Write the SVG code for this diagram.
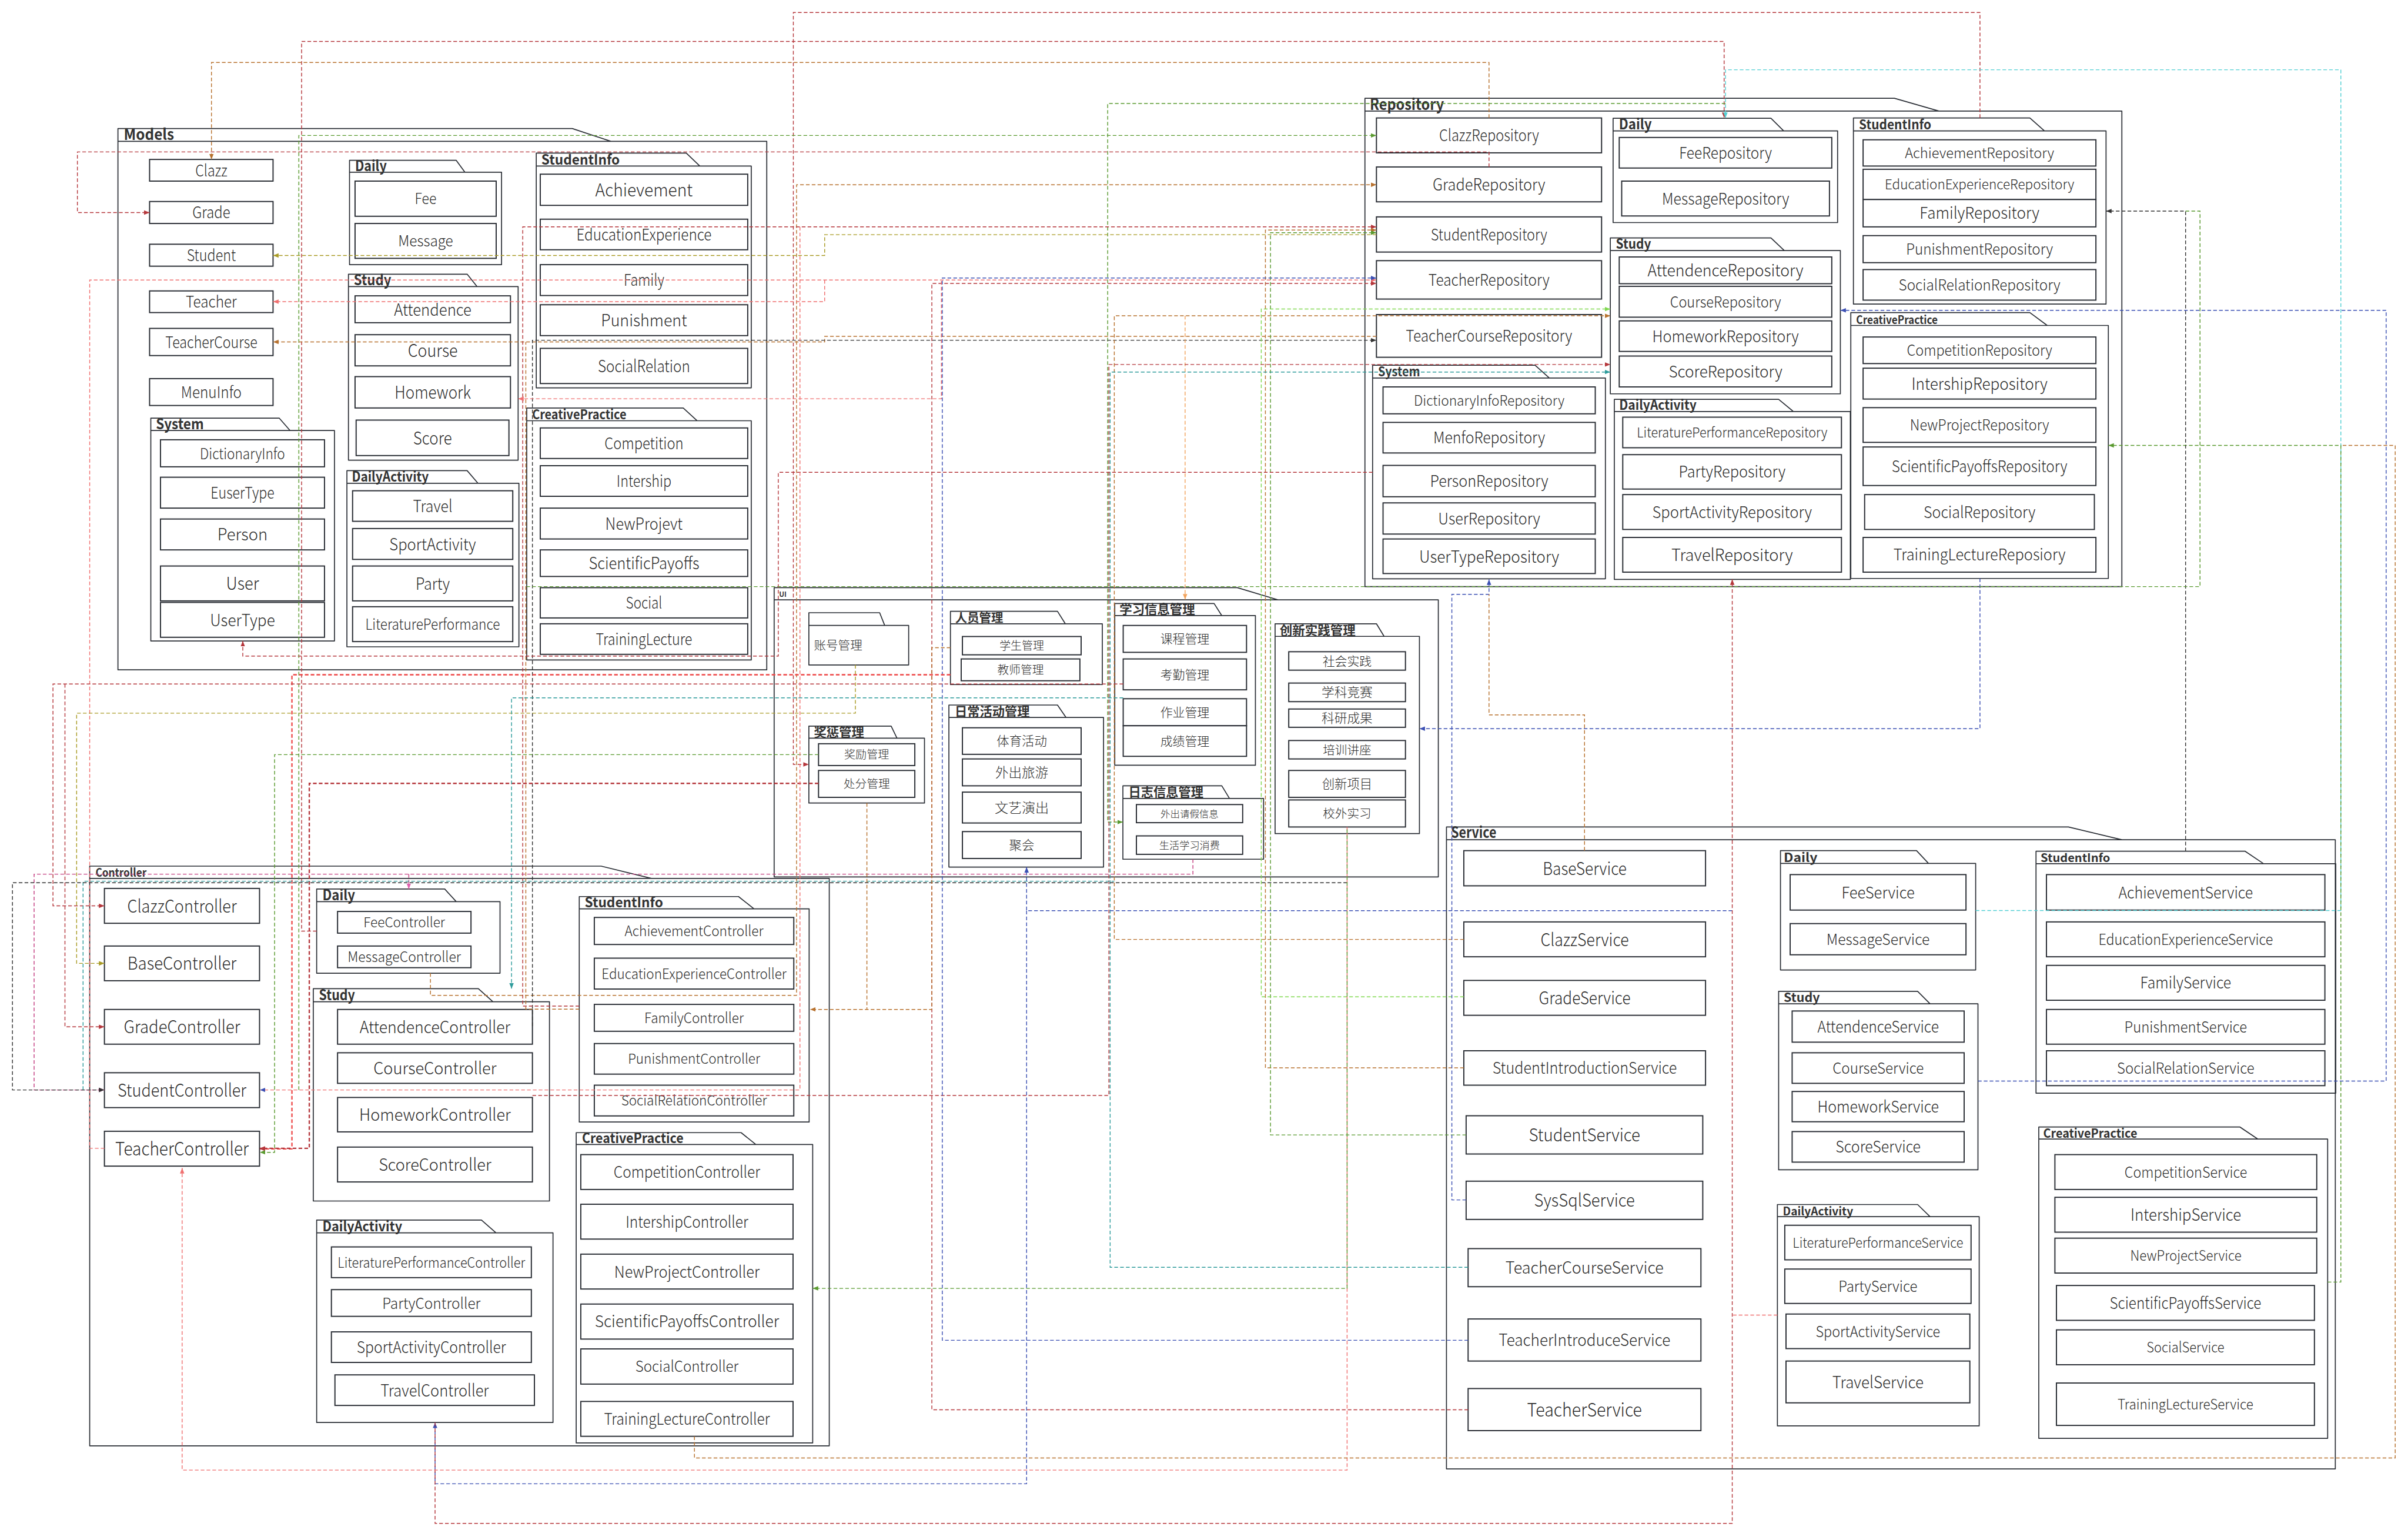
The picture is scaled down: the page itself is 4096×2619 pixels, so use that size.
<svg xmlns="http://www.w3.org/2000/svg" width="4096" height="2619" viewBox="0 0 4096 2619">
<style>
.bx{fill:#fff;stroke:#2a2e35;stroke-width:.75}
.pk{fill:none;stroke:#2a2e35;stroke-width:.65;stroke-linejoin:round}
.t{font-family:"Noto Sans CJK SC","Noto Sans",sans-serif;font-weight:300;fill:#2e2e2e;text-anchor:middle}
.l{font-family:"Noto Sans CJK SC","Noto Sans",sans-serif;font-weight:700;fill:#333;text-anchor:start}
.u{font-family:"Noto Sans CJK SC","Noto Sans",sans-serif;font-weight:300;fill:#2e2e2e;text-anchor:start}
.c{fill:none;stroke-width:.55;stroke-dasharray:2.4 1.4}
.th{stroke-width:.9}
.dr{stroke:#b5373c}.br{stroke:#b8722f}.cy{stroke:#55d0d4}.gr{stroke:#5a9a30}.lg{stroke:#80d850}.ol{stroke:#a99b25}
.sa{stroke:#f07070}.rd{stroke:#ee4a4a}.te{stroke:#2e9c9c}.bl{stroke:#3b4fb3}.bk{stroke:#333}.mg{stroke:#c43d80}.or{stroke:#f2a35c}
</style>
<defs>
<marker id="a-dr" viewBox="0 0 10 10" refX="10" refY="5" markerWidth="3.6" markerHeight="3.6" markerUnits="userSpaceOnUse" orient="auto"><path d="M0,1L10,5L0,9z" fill="#b5373c"/></marker>
<marker id="a-br" viewBox="0 0 10 10" refX="10" refY="5" markerWidth="3.6" markerHeight="3.6" markerUnits="userSpaceOnUse" orient="auto"><path d="M0,1L10,5L0,9z" fill="#b8722f"/></marker>
<marker id="a-cy" viewBox="0 0 10 10" refX="10" refY="5" markerWidth="3.6" markerHeight="3.6" markerUnits="userSpaceOnUse" orient="auto"><path d="M0,1L10,5L0,9z" fill="#55d0d4"/></marker>
<marker id="a-gr" viewBox="0 0 10 10" refX="10" refY="5" markerWidth="3.6" markerHeight="3.6" markerUnits="userSpaceOnUse" orient="auto"><path d="M0,1L10,5L0,9z" fill="#5a9a30"/></marker>
<marker id="a-lg" viewBox="0 0 10 10" refX="10" refY="5" markerWidth="3.6" markerHeight="3.6" markerUnits="userSpaceOnUse" orient="auto"><path d="M0,1L10,5L0,9z" fill="#80d850"/></marker>
<marker id="a-ol" viewBox="0 0 10 10" refX="10" refY="5" markerWidth="3.6" markerHeight="3.6" markerUnits="userSpaceOnUse" orient="auto"><path d="M0,1L10,5L0,9z" fill="#a99b25"/></marker>
<marker id="a-sa" viewBox="0 0 10 10" refX="10" refY="5" markerWidth="3.6" markerHeight="3.6" markerUnits="userSpaceOnUse" orient="auto"><path d="M0,1L10,5L0,9z" fill="#f07070"/></marker>
<marker id="a-rd" viewBox="0 0 10 10" refX="10" refY="5" markerWidth="3.6" markerHeight="3.6" markerUnits="userSpaceOnUse" orient="auto"><path d="M0,1L10,5L0,9z" fill="#b5373c"/></marker>
<marker id="a-te" viewBox="0 0 10 10" refX="10" refY="5" markerWidth="3.6" markerHeight="3.6" markerUnits="userSpaceOnUse" orient="auto"><path d="M0,1L10,5L0,9z" fill="#2e9c9c"/></marker>
<marker id="a-bl" viewBox="0 0 10 10" refX="10" refY="5" markerWidth="3.6" markerHeight="3.6" markerUnits="userSpaceOnUse" orient="auto"><path d="M0,1L10,5L0,9z" fill="#3b4fb3"/></marker>
<marker id="a-bk" viewBox="0 0 10 10" refX="10" refY="5" markerWidth="3.6" markerHeight="3.6" markerUnits="userSpaceOnUse" orient="auto"><path d="M0,1L10,5L0,9z" fill="#333"/></marker>
<marker id="a-mg" viewBox="0 0 10 10" refX="10" refY="5" markerWidth="3.6" markerHeight="3.6" markerUnits="userSpaceOnUse" orient="auto"><path d="M0,1L10,5L0,9z" fill="#e060b0"/></marker>
<marker id="a-or" viewBox="0 0 10 10" refX="10" refY="5" markerWidth="3.6" markerHeight="3.6" markerUnits="userSpaceOnUse" orient="auto"><path d="M0,1L10,5L0,9z" fill="#f2a35c"/></marker>
</defs>
<rect width="4096" height="2619" fill="#fff"/>
<g transform="scale(2.6122)">

<!-- ===== Models ===== -->
<g id="pkg-models">
<path class="pk" d="M76.8,92V83.7H372.7L397.8,92M76.8,92H499.3V436.1H76.8Z"/>
<text class="l" x="80.6" y="91" font-size="10" textLength="32.7" lengthAdjust="spacingAndGlyphs">Models</text>
<g id="m-clazz"><rect class="bx" x="97.4" y="103.8" width="80.4" height="14.1"/><text class="t" x="137.6" y="114.7" font-size="10.5" textLength="20.9" lengthAdjust="spacingAndGlyphs">Clazz</text></g>
<g id="m-grade"><rect class="bx" x="97.4" y="131.2" width="80.4" height="14.3"/><text class="t" x="137.6" y="142.2" font-size="10.5" textLength="24.7" lengthAdjust="spacingAndGlyphs">Grade</text></g>
<g id="m-student"><rect class="bx" x="97.4" y="159" width="80.4" height="14.3"/><text class="t" x="137.6" y="170" font-size="10.5" textLength="32" lengthAdjust="spacingAndGlyphs">Student</text></g>
<g id="m-teacher"><rect class="bx" x="97.4" y="189.4" width="80.4" height="14.1"/><text class="t" x="137.6" y="200.3" font-size="10.5" textLength="33.2" lengthAdjust="spacingAndGlyphs">Teacher</text></g>
<g id="m-teachercourse"><rect class="bx" x="97.4" y="213.8" width="80.4" height="17.7"/><text class="t" x="137.6" y="226.5" font-size="10.5" textLength="59.9" lengthAdjust="spacingAndGlyphs">TeacherCourse</text></g>
<g id="m-menuinfo"><rect class="bx" x="97.4" y="246.5" width="80.4" height="17.5"/><text class="t" x="137.6" y="259.1" font-size="10.5" textLength="39.5" lengthAdjust="spacingAndGlyphs">MenuInfo</text></g>
<g id="m-system">
<path class="pk" d="M98.2,280.3V272.2H181.8L188.9,280.3M98.2,280.3H217.8V417.3H98.2Z"/>
<text class="l" x="101.5" y="279.3" font-size="9.5" textLength="31.2" lengthAdjust="spacingAndGlyphs">System</text>
<g id="m-dictionaryinfo"><rect class="bx" x="104.5" y="286.3" width="106.8" height="17.6"/><text class="t" x="157.9" y="298.8" font-size="10" textLength="55.4" lengthAdjust="spacingAndGlyphs">DictionaryInfo</text></g>
<g id="m-eusertype"><rect class="bx" x="104.5" y="310.7" width="106.8" height="20.1"/><text class="t" x="157.9" y="324.6" font-size="10.5" textLength="41.5" lengthAdjust="spacingAndGlyphs">EuserType</text></g>
<g id="m-person"><rect class="bx" x="104.5" y="337.9" width="106.8" height="20.1"/><text class="t" x="157.9" y="352" font-size="11" textLength="32.7" lengthAdjust="spacingAndGlyphs">Person</text></g>
<g id="m-user"><rect class="bx" x="104.5" y="368.5" width="106.8" height="22.7"/><text class="t" x="157.9" y="384.1" font-size="11.5" textLength="21.4" lengthAdjust="spacingAndGlyphs">User</text></g>
<g id="m-usertype"><rect class="bx" x="104.5" y="392.2" width="106.8" height="22.7"/><text class="t" x="157.9" y="407.6" font-size="11" textLength="42.3" lengthAdjust="spacingAndGlyphs">UserType</text></g>
</g>
<g id="m-daily">
<path class="pk" d="M227.6,112.1V104.4H297.1L302.7,112.1M227.6,112.1H326.6V172.3H227.6Z"/>
<text class="l" x="231.2" y="111.3" font-size="9.5" textLength="20.6" lengthAdjust="spacingAndGlyphs">Daily</text>
<g id="m-fee"><rect class="bx" x="231.2" y="117.9" width="91.9" height="22.9"/><text class="t" x="277.15" y="133" font-size="10" textLength="14.1" lengthAdjust="spacingAndGlyphs">Fee</text></g>
<g id="m-message"><rect class="bx" x="231.2" y="145.5" width="91.9" height="22.7"/><text class="t" x="277.15" y="160.5" font-size="10" textLength="35.8" lengthAdjust="spacingAndGlyphs">Message</text></g>
</g>
<g id="m-study">
<path class="pk" d="M226.9,186.6V178.5H304.2L310.7,186.6M226.9,186.6H337.4V299.6H226.9Z"/>
<text class="l" x="230.4" y="185.6" font-size="9.5" textLength="24.4" lengthAdjust="spacingAndGlyphs">Study</text>
<g id="m-attendence"><rect class="bx" x="231.2" y="192.6" width="101.2" height="17.5"/><text class="t" x="281.8" y="205.4" font-size="11" textLength="50.4" lengthAdjust="spacingAndGlyphs">Attendence</text></g>
<g id="m-course"><rect class="bx" x="231.2" y="217.9" width="101.2" height="20.3"/><text class="t" x="281.8" y="232.3" font-size="11.5" textLength="32.5" lengthAdjust="spacingAndGlyphs">Course</text></g>
<g id="m-homework"><rect class="bx" x="231.2" y="245.2" width="101.2" height="20.4"/><text class="t" x="281.8" y="259.6" font-size="11.5" textLength="49.6" lengthAdjust="spacingAndGlyphs">Homework</text></g>
<g id="m-score"><rect class="bx" x="231.9" y="273.5" width="99.5" height="23.1"/><text class="t" x="281.65" y="289.3" font-size="11.5" textLength="25.2" lengthAdjust="spacingAndGlyphs">Score</text></g>
</g>
<g id="m-dailyactivity">
<path class="pk" d="M225.9,314.6V306.4H304.2L311.2,314.6M225.9,314.6H337.9V421.1H225.9Z"/>
<text class="l" x="229.1" y="313.6" font-size="9" textLength="50.1" lengthAdjust="spacingAndGlyphs">DailyActivity</text>
<g id="m-travel"><rect class="bx" x="229.6" y="319.5" width="104.3" height="19.9"/><text class="t" x="281.75" y="333.5" font-size="11" textLength="25.7" lengthAdjust="spacingAndGlyphs">Travel</text></g>
<g id="m-sportactivity"><rect class="bx" x="229.6" y="344.1" width="104.3" height="20.1"/><text class="t" x="281.75" y="358.2" font-size="11" textLength="56.4" lengthAdjust="spacingAndGlyphs">SportActivity</text></g>
<g id="m-party"><rect class="bx" x="229.6" y="368.5" width="104.3" height="22.7"/><text class="t" x="281.75" y="383.9" font-size="11" textLength="22.2" lengthAdjust="spacingAndGlyphs">Party</text></g>
<g id="m-literatureperformance"><rect class="bx" x="229.6" y="395" width="104.3" height="22.7"/><text class="t" x="281.75" y="410" font-size="10" textLength="87.6" lengthAdjust="spacingAndGlyphs">LiteraturePerformance</text></g>
</g>
<g id="m-studentinfo">
<path class="pk" d="M349.2,108.1V99.7H446.9L455.7,108.1M349.2,108.1H489.2V252.5H349.2Z"/>
<text class="l" x="352.5" y="107.1" font-size="9" textLength="51.1" lengthAdjust="spacingAndGlyphs">StudentInfo</text>
<g id="m-achievement"><rect class="bx" x="351.8" y="113.4" width="135.1" height="20.3"/><text class="t" x="419.35" y="127.8" font-size="11.5" textLength="63.4" lengthAdjust="spacingAndGlyphs">Achievement</text></g>
<g id="m-educationexperience"><rect class="bx" x="351.8" y="142.7" width="135.1" height="19.9"/><text class="t" x="419.35" y="156.5" font-size="10.5" textLength="88" lengthAdjust="spacingAndGlyphs">EducationExperience</text></g>
<g id="m-family"><rect class="bx" x="351.8" y="172.3" width="135.1" height="20.1"/><text class="t" x="419.35" y="186.2" font-size="10.5" textLength="26.4" lengthAdjust="spacingAndGlyphs">Family</text></g>
<g id="m-punishment"><rect class="bx" x="351.8" y="198.4" width="135.1" height="20.1"/><text class="t" x="419.35" y="212.5" font-size="11" textLength="56" lengthAdjust="spacingAndGlyphs">Punishment</text></g>
<g id="m-socialrelation"><rect class="bx" x="351.8" y="226.8" width="135.1" height="22.9"/><text class="t" x="419.35" y="242.3" font-size="11" textLength="60" lengthAdjust="spacingAndGlyphs">SocialRelation</text></g>
</g>
<g id="m-creativepractice">
<path class="pk" d="M343,273.9V265.6H444.9L453.9,273.9M343,273.9H489.2V429.7H343Z"/>
<text class="l" x="346.5" y="272.9" font-size="8.5" textLength="61.4" lengthAdjust="spacingAndGlyphs">CreativePractice</text>
<g id="m-competition"><rect class="bx" x="351.8" y="278.6" width="135.1" height="19.9"/><text class="t" x="419.35" y="292.4" font-size="10.5" textLength="51.4" lengthAdjust="spacingAndGlyphs">Competition</text></g>
<g id="m-intership"><rect class="bx" x="351.8" y="303.2" width="135.1" height="19.9"/><text class="t" x="419.35" y="317" font-size="10.5" textLength="35.7" lengthAdjust="spacingAndGlyphs">Intership</text></g>
<g id="m-newprojevt"><rect class="bx" x="351.8" y="330.8" width="135.1" height="20.1"/><text class="t" x="419.35" y="344.9" font-size="11" textLength="50.4" lengthAdjust="spacingAndGlyphs">NewProjevt</text></g>
<g id="m-scientificpayoffs"><rect class="bx" x="351.8" y="358" width="135.1" height="17.3"/><text class="t" x="419.35" y="370.7" font-size="11" textLength="72" lengthAdjust="spacingAndGlyphs">ScientificPayoffs</text></g>
<g id="m-social"><rect class="bx" x="351.8" y="382.6" width="135.1" height="19.7"/><text class="t" x="419.35" y="396.3" font-size="10.5" textLength="23.6" lengthAdjust="spacingAndGlyphs">Social</text></g>
<g id="m-traininglecture"><rect class="bx" x="351.8" y="406.1" width="135.1" height="19.9"/><text class="t" x="419.35" y="419.9" font-size="10.5" textLength="62.7" lengthAdjust="spacingAndGlyphs">TrainingLecture</text></g>
</g>
</g>

<!-- ===== Repository ===== -->
<g id="pkg-repository">
<path class="pk" d="M888.8,72.3V64H1233.6L1262.6,72.3M888.8,72.3H1381.7V381.9H888.8Z"/>
<text class="l" x="892" y="71.5" font-size="10" textLength="48.3" lengthAdjust="spacingAndGlyphs">Repository</text>
<g id="r-clazz"><rect class="bx" x="896.3" y="76.8" width="146.6" height="22.7"/><text class="t" x="969.6" y="92" font-size="10.5" textLength="65" lengthAdjust="spacingAndGlyphs">ClazzRepository</text></g>
<g id="r-grade"><rect class="bx" x="896.3" y="108.7" width="146.6" height="22.7"/><text class="t" x="969.6" y="124.1" font-size="11" textLength="73.3" lengthAdjust="spacingAndGlyphs">GradeRepository</text></g>
<g id="r-student"><rect class="bx" x="896.3" y="141.2" width="146.6" height="22.9"/><text class="t" x="969.6" y="156.5" font-size="10.5" textLength="75.8" lengthAdjust="spacingAndGlyphs">StudentRepository</text></g>
<g id="r-teacher"><rect class="bx" x="896.3" y="169.7" width="146.6" height="25"/><text class="t" x="969.6" y="186" font-size="10.5" textLength="78.8" lengthAdjust="spacingAndGlyphs">TeacherRepository</text></g>
<g id="r-teachercourse"><rect class="bx" x="896.3" y="204.8" width="146.6" height="27.8"/><text class="t" x="969.6" y="222.5" font-size="10.5" textLength="108.3" lengthAdjust="spacingAndGlyphs">TeacherCourseRepository</text></g>
<g id="r-system">
<path class="pk" d="M893.8,246.1V237.8H999.6L1008.9,246.1M893.8,246.1H1045.4V376.8H893.8Z"/>
<text class="l" x="897.3" y="245.1" font-size="8.5" textLength="27.4" lengthAdjust="spacingAndGlyphs">System</text>
<g id="r-dictionaryinfo"><rect class="bx" x="900.6" y="251.9" width="138.2" height="17.5"/><text class="t" x="969.7" y="264.1" font-size="9.5" textLength="98" lengthAdjust="spacingAndGlyphs">DictionaryInfoRepository</text></g>
<g id="r-menfo"><rect class="bx" x="900.6" y="275" width="138.2" height="19.9"/><text class="t" x="969.7" y="288.8" font-size="10.5" textLength="72.8" lengthAdjust="spacingAndGlyphs">MenfoRepository</text></g>
<g id="r-person"><rect class="bx" x="900.6" y="303" width="138.2" height="20.4"/><text class="t" x="969.7" y="317" font-size="10.5" textLength="77" lengthAdjust="spacingAndGlyphs">PersonRepository</text></g>
<g id="r-user"><rect class="bx" x="900.6" y="327.4" width="138.2" height="20.3"/><text class="t" x="969.7" y="341.4" font-size="10.5" textLength="66.5" lengthAdjust="spacingAndGlyphs">UserRepository</text></g>
<g id="r-usertype"><rect class="bx" x="900.6" y="350.9" width="138.2" height="22.5"/><text class="t" x="969.7" y="366.2" font-size="11" textLength="91.2" lengthAdjust="spacingAndGlyphs">UserTypeRepository</text></g>
</g>
<g id="r-daily">
<path class="pk" d="M1050.4,85.2V77H1153.2L1161.5,85.2M1050.4,85.2H1196.6V144.9H1050.4Z"/>
<text class="l" x="1054.2" y="84.2" font-size="9.5" textLength="21.4" lengthAdjust="spacingAndGlyphs">Daily</text>
<g id="r-fee"><rect class="bx" x="1054.4" y="89.5" width="138.4" height="19.9"/><text class="t" x="1123.6" y="103.3" font-size="10.5" textLength="60.4" lengthAdjust="spacingAndGlyphs">FeeRepository</text></g>
<g id="r-message"><rect class="bx" x="1056" y="117.9" width="135.3" height="22.7"/><text class="t" x="1123.65" y="133.1" font-size="10.5" textLength="82.8" lengthAdjust="spacingAndGlyphs">MessageRepository</text></g>
</g>
<g id="r-study">
<path class="pk" d="M1048.6,163.1V154.9H1153.2L1161.9,163.1M1048.6,163.1H1198.4V256.4H1048.6Z"/>
<text class="l" x="1052.2" y="162.1" font-size="9" textLength="22.9" lengthAdjust="spacingAndGlyphs">Study</text>
<g id="r-attendence"><rect class="bx" x="1054.4" y="167.3" width="138.4" height="17.4"/><text class="t" x="1123.6" y="180" font-size="11" textLength="101.5" lengthAdjust="spacingAndGlyphs">AttendenceRepository</text></g>
<g id="r-course"><rect class="bx" x="1054.4" y="186.4" width="138.4" height="20.1"/><text class="t" x="1123.6" y="200.1" font-size="10" textLength="72.3" lengthAdjust="spacingAndGlyphs">CourseRepository</text></g>
<g id="r-homework"><rect class="bx" x="1054.4" y="208.9" width="138.4" height="19.9"/><text class="t" x="1123.6" y="222.7" font-size="10.5" textLength="95.4" lengthAdjust="spacingAndGlyphs">HomeworkRepository</text></g>
<g id="r-score"><rect class="bx" x="1054.4" y="231.8" width="138.4" height="20.1"/><text class="t" x="1123.6" y="245.7" font-size="10.5" textLength="74" lengthAdjust="spacingAndGlyphs">ScoreRepository</text></g>
</g>
<g id="r-dailyactivity">
<path class="pk" d="M1051.2,267.9V260H1158.2L1167.8,267.9M1051.2,267.9H1204.9V377.2H1051.2Z"/>
<text class="l" x="1054.4" y="266.9" font-size="9" textLength="50.4" lengthAdjust="spacingAndGlyphs">DailyActivity</text>
<g id="r-literatureperformance"><rect class="bx" x="1056.7" y="271.6" width="142.4" height="19.9"/><text class="t" x="1127.9" y="284.9" font-size="9" textLength="124" lengthAdjust="spacingAndGlyphs">LiteraturePerformanceRepository</text></g>
<g id="r-party"><rect class="bx" x="1056.7" y="296" width="142.4" height="22.4"/><text class="t" x="1127.9" y="311" font-size="10.5" textLength="69.5" lengthAdjust="spacingAndGlyphs">PartyRepository</text></g>
<g id="r-sportactivity"><rect class="bx" x="1056.7" y="322" width="142.4" height="22.7"/><text class="t" x="1127.9" y="337.2" font-size="10.5" textLength="104" lengthAdjust="spacingAndGlyphs">SportActivityRepository</text></g>
<g id="r-travel"><rect class="bx" x="1056.7" y="349.9" width="142.4" height="22.6"/><text class="t" x="1127.9" y="365.2" font-size="11" textLength="79.1" lengthAdjust="spacingAndGlyphs">TravelRepository</text></g>
</g>
<g id="r-studentinfo">
<path class="pk" d="M1206.9,85.2V76.8H1321.8L1331.3,85.2M1206.9,85.2H1371.4V198H1206.9Z"/>
<text class="l" x="1210.5" y="84.2" font-size="8.5" textLength="47.1" lengthAdjust="spacingAndGlyphs">StudentInfo</text>
<g id="r-achievement"><rect class="bx" x="1213.2" y="91" width="151.6" height="17.1"/><text class="t" x="1289" y="103" font-size="9.5" textLength="97.2" lengthAdjust="spacingAndGlyphs">AchievementRepository</text></g>
<g id="r-educationexperience"><rect class="bx" x="1213.2" y="110.2" width="151.6" height="19.7"/><text class="t" x="1289" y="123.4" font-size="9" textLength="123.4" lengthAdjust="spacingAndGlyphs">EducationExperienceRepository</text></g>
<g id="r-family"><rect class="bx" x="1213.2" y="129.9" width="151.6" height="17.8"/><text class="t" x="1289" y="142.6" font-size="10.5" textLength="78" lengthAdjust="spacingAndGlyphs">FamilyRepository</text></g>
<g id="r-punishment"><rect class="bx" x="1213.2" y="153.4" width="151.6" height="17.6"/><text class="t" x="1289" y="165.9" font-size="10" textLength="95.7" lengthAdjust="spacingAndGlyphs">PunishmentRepository</text></g>
<g id="r-socialrelation"><rect class="bx" x="1213.2" y="175.5" width="151.6" height="19.9"/><text class="t" x="1289" y="189.1" font-size="10" textLength="105.3" lengthAdjust="spacingAndGlyphs">SocialRelationRepository</text></g>
</g>
<g id="r-creativepractice">
<path class="pk" d="M1205.2,211.9V203.5H1321.8L1333.1,211.9M1205.2,211.9H1372.9V376.6H1205.2Z"/>
<text class="l" x="1208.7" y="210.9" font-size="7.5" textLength="53.1" lengthAdjust="spacingAndGlyphs">CreativePractice</text>
<g id="r-competition"><rect class="bx" x="1213.2" y="219.4" width="151.6" height="17.3"/><text class="t" x="1289" y="231.7" font-size="10" textLength="94.7" lengthAdjust="spacingAndGlyphs">CompetitionRepository</text></g>
<g id="r-intership"><rect class="bx" x="1213.2" y="239.7" width="151.6" height="20.1"/><text class="t" x="1289" y="253.8" font-size="11" textLength="88.6" lengthAdjust="spacingAndGlyphs">IntershipRepository</text></g>
<g id="r-newproject"><rect class="bx" x="1213.2" y="265.4" width="151.6" height="22.6"/><text class="t" x="1289" y="280.4" font-size="10" textLength="90.6" lengthAdjust="spacingAndGlyphs">NewProjectRepository</text></g>
<g id="r-scientificpayoffs"><rect class="bx" x="1213.2" y="291" width="151.6" height="25.1"/><text class="t" x="1289" y="307.4" font-size="10.5" textLength="114.3" lengthAdjust="spacingAndGlyphs">ScientificPayoffsRepository</text></g>
<g id="r-social"><rect class="bx" x="1214.2" y="322" width="149.6" height="22.7"/><text class="t" x="1289" y="337.2" font-size="10.5" textLength="72.8" lengthAdjust="spacingAndGlyphs">SocialRepository</text></g>
<g id="r-traininglecture"><rect class="bx" x="1213.2" y="349.9" width="151.6" height="22.6"/><text class="t" x="1289" y="365" font-size="10.5" textLength="112" lengthAdjust="spacingAndGlyphs">TrainingLectureReposiory</text></g>
</g>
</g>

<!-- ===== UI ===== -->
<g id="pkg-ui">
<path class="pk" d="M504.1,390.5V382.6H805.7L832.1,390.5M504.1,390.5H936.6V570.9H504.1Z"/>
<text class="l" x="507.3" y="388.6" font-size="4.5">UI</text>
<g id="ui-account">
<path class="pk" d="M526.7,407.2V398.9H572.8L576.1,407.2M526.7,407.2H591.7V432.9H526.7Z"/>
<text class="u" x="530" y="422.9" font-size="7.9" textLength="31.5" lengthAdjust="spacingAndGlyphs">账号管理</text>
</g>
<g id="ui-reward">
<path class="pk" d="M526.7,480.6V472.7H580.3L584.1,480.6M526.7,480.6H602V522.8H526.7Z"/>
<text class="l" x="530" y="479.6" font-size="8.2" textLength="32.7" lengthAdjust="spacingAndGlyphs">奖惩管理</text>
<g id="ui-reward-a"><rect class="bx" x="533" y="484.2" width="62.7" height="14.2"/><text class="t" x="564.35" y="493.9" font-size="7.3" textLength="29.2" lengthAdjust="spacingAndGlyphs">奖励管理</text></g>
<g id="ui-reward-b"><rect class="bx" x="533" y="501.6" width="62.7" height="17.5"/><text class="t" x="564.35" y="513.1" font-size="7.5" textLength="30.2" lengthAdjust="spacingAndGlyphs">处分管理</text></g>
</g>
<g id="ui-people">
<path class="pk" d="M618.9,406.1V398H688.6L693.7,406.1M618.9,406.1H717.8V445.7H618.9Z"/>
<text class="l" x="622" y="405.1" font-size="7.8" textLength="31.2" lengthAdjust="spacingAndGlyphs">人员管理</text>
<g id="ui-people-a"><rect class="bx" x="626.7" y="414.4" width="77.3" height="11.9"/><text class="t" x="665.35" y="423" font-size="7.2" textLength="29" lengthAdjust="spacingAndGlyphs">学生管理</text></g>
<g id="ui-people-b"><rect class="bx" x="625.9" y="429" width="77.3" height="14.2"/><text class="t" x="664.55" y="438.8" font-size="7.5" textLength="30.2" lengthAdjust="spacingAndGlyphs">教师管理</text></g>
</g>
<g id="ui-daily">
<path class="pk" d="M617.9,467.1V459H688.6L694.2,467.1M617.9,467.1H718.6V564.5H617.9Z"/>
<text class="l" x="621.7" y="466.1" font-size="8.1" textLength="48.8" lengthAdjust="spacingAndGlyphs">日常活动管理</text>
<g id="ui-daily-a"><rect class="bx" x="626.7" y="473.8" width="77.3" height="17.3"/><text class="t" x="665.35" y="485.4" font-size="8.2" textLength="32.7" lengthAdjust="spacingAndGlyphs">体育活动</text></g>
<g id="ui-daily-b"><rect class="bx" x="626.7" y="494.1" width="77.3" height="17.5"/><text class="t" x="665.35" y="506" font-size="8.6" textLength="34.5" lengthAdjust="spacingAndGlyphs">外出旅游</text></g>
<g id="ui-daily-c"><rect class="bx" x="626.7" y="515.7" width="77.3" height="20.1"/><text class="t" x="665.35" y="528.9" font-size="8.8" textLength="35.3" lengthAdjust="spacingAndGlyphs">文艺演出</text></g>
<g id="ui-daily-d"><rect class="bx" x="626.7" y="541.4" width="77.3" height="17.5"/><text class="t" x="665.35" y="553.1" font-size="8.2" textLength="16.4" lengthAdjust="spacingAndGlyphs">聚会</text></g>
</g>
<g id="ui-study">
<path class="pk" d="M725.9,400.8V392.9H790.6L795.6,400.8M725.9,400.8H817.5V498.2H725.9Z"/>
<text class="l" x="729" y="399.8" font-size="8.2" textLength="49.1" lengthAdjust="spacingAndGlyphs">学习信息管理</text>
<g id="ui-study-a"><rect class="bx" x="731.4" y="407.2" width="80.3" height="17.5"/><text class="t" x="771.55" y="418.8" font-size="8" textLength="32" lengthAdjust="spacingAndGlyphs">课程管理</text></g>
<g id="ui-study-b"><rect class="bx" x="731.4" y="429" width="80.3" height="20.1"/><text class="t" x="771.55" y="442" font-size="8" textLength="32" lengthAdjust="spacingAndGlyphs">考勤管理</text></g>
<g id="ui-study-c"><rect class="bx" x="731.4" y="454.9" width="80.3" height="17.6"/><text class="t" x="771.55" y="466.6" font-size="8" textLength="32" lengthAdjust="spacingAndGlyphs">作业管理</text></g>
<g id="ui-study-d"><rect class="bx" x="731.4" y="472.5" width="80.3" height="19.9"/><text class="t" x="771.55" y="485.4" font-size="8" textLength="32" lengthAdjust="spacingAndGlyphs">成绩管理</text></g>
</g>
<g id="ui-log">
<path class="pk" d="M731.2,519.8V511.6H795.6L800.6,519.8M731.2,519.8H822.8V559.4H731.2Z"/>
<text class="l" x="734.8" y="518.8" font-size="8.1" textLength="48.8" lengthAdjust="spacingAndGlyphs">日志信息管理</text>
<g id="ui-log-a"><rect class="bx" x="740" y="523.8" width="69.2" height="11.8"/><text class="t" x="774.6" y="532" font-size="6.3" textLength="37.8" lengthAdjust="spacingAndGlyphs">外出请假信息</text></g>
<g id="ui-log-b"><rect class="bx" x="740" y="544.2" width="69.2" height="12"/><text class="t" x="774.6" y="552.6" font-size="6.6" textLength="39.5" lengthAdjust="spacingAndGlyphs">生活学习消费</text></g>
</g>
<g id="ui-innov">
<path class="pk" d="M830.3,414.3V406.1H896.3L901.3,414.3M830.3,414.3H924.3V542.7H830.3Z"/>
<text class="l" x="833.3" y="413.3" font-size="8.2" textLength="49.4" lengthAdjust="spacingAndGlyphs">创新实践管理</text>
<g id="ui-innov-a"><rect class="bx" x="839.2" y="424.3" width="76" height="12"/><text class="t" x="877.2" y="433.2" font-size="8" textLength="32" lengthAdjust="spacingAndGlyphs">社会实践</text></g>
<g id="ui-innov-b"><rect class="bx" x="839.2" y="444.7" width="76" height="12.1"/><text class="t" x="877.2" y="453.8" font-size="8.3" textLength="33.2" lengthAdjust="spacingAndGlyphs">学科竞赛</text></g>
<g id="ui-innov-c"><rect class="bx" x="839.2" y="461.6" width="76" height="11.9"/><text class="t" x="877.2" y="470.5" font-size="8.3" textLength="33.2" lengthAdjust="spacingAndGlyphs">科研成果</text></g>
<g id="ui-innov-d"><rect class="bx" x="839.2" y="482.1" width="76" height="12"/><text class="t" x="877.2" y="491" font-size="7.9" textLength="31.5" lengthAdjust="spacingAndGlyphs">培训讲座</text></g>
<g id="ui-innov-e"><rect class="bx" x="839.2" y="501.6" width="76" height="17.5"/><text class="t" x="877.2" y="513.3" font-size="8.2" textLength="32.7" lengthAdjust="spacingAndGlyphs">创新项目</text></g>
<g id="ui-innov-f"><rect class="bx" x="839.2" y="520.8" width="76" height="17.6"/><text class="t" x="877.2" y="532.5" font-size="7.9" textLength="31.5" lengthAdjust="spacingAndGlyphs">校外实习</text></g>
</g>
</g>

<!-- ===== Controller ===== -->
<g id="pkg-controller">
<path class="pk" d="M58.4,571.9V563.9H391.5L424.2,571.9M58.4,571.9H540V941.3H58.4Z"/>
<text class="l" x="62.2" y="570.9" font-size="7.5" font-weight="600" textLength="33.2" lengthAdjust="spacingAndGlyphs">Controller</text>
<g id="c-clazz"><rect class="bx" x="68" y="578.4" width="101" height="22.7"/><text class="t" x="118.5" y="594" font-size="11.5" textLength="71.3" lengthAdjust="spacingAndGlyphs">ClazzController</text></g>
<g id="c-base"><rect class="bx" x="68" y="615.9" width="101" height="22.6"/><text class="t" x="118.5" y="631.4" font-size="11.5" textLength="71" lengthAdjust="spacingAndGlyphs">BaseController</text></g>
<g id="c-grade"><rect class="bx" x="68" y="657.2" width="101" height="22.6"/><text class="t" x="118.5" y="672.7" font-size="11.5" textLength="75.8" lengthAdjust="spacingAndGlyphs">GradeController</text></g>
<g id="c-student"><rect class="bx" x="68" y="698.4" width="101" height="22.7"/><text class="t" x="118.5" y="714" font-size="11.5" textLength="83.8" lengthAdjust="spacingAndGlyphs">StudentController</text></g>
<g id="c-teacher"><rect class="bx" x="68" y="736.5" width="101" height="22.7"/><text class="t" x="118.5" y="752.2" font-size="12" textLength="86.9" lengthAdjust="spacingAndGlyphs">TeacherController</text></g>
<g id="c-daily">
<path class="pk" d="M206.2,587V578.8H289.6L297.1,587M206.2,587H325.6V633.6H206.2Z"/>
<text class="l" x="210" y="586" font-size="9.5" textLength="21.2" lengthAdjust="spacingAndGlyphs">Daily</text>
<g id="c-fee"><rect class="bx" x="219.8" y="593.4" width="86.9" height="14.1"/><text class="t" x="263.25" y="603.7" font-size="9" textLength="53.1" lengthAdjust="spacingAndGlyphs">FeeController</text></g>
<g id="c-message"><rect class="bx" x="219.8" y="615.9" width="86.9" height="14.1"/><text class="t" x="263.25" y="626.4" font-size="9.5" textLength="73.8" lengthAdjust="spacingAndGlyphs">MessageController</text></g>
</g>
<g id="c-study">
<path class="pk" d="M204,652.2V643.7H311.5L321,652.2M204,652.2H357.8V781.9H204Z"/>
<text class="l" x="207.7" y="651.2" font-size="9.5" textLength="23.4" lengthAdjust="spacingAndGlyphs">Study</text>
<g id="c-attendence"><rect class="bx" x="219.8" y="657.2" width="126.9" height="22.6"/><text class="t" x="283.25" y="672.5" font-size="11" textLength="98.2" lengthAdjust="spacingAndGlyphs">AttendenceController</text></g>
<g id="c-course"><rect class="bx" x="219.8" y="685.4" width="126.9" height="19.9"/><text class="t" x="283.25" y="699.4" font-size="11" textLength="80.1" lengthAdjust="spacingAndGlyphs">CourseController</text></g>
<g id="c-homework"><rect class="bx" x="219.8" y="714.5" width="126.9" height="22.4"/><text class="t" x="283.25" y="729.7" font-size="11" textLength="98.7" lengthAdjust="spacingAndGlyphs">HomeworkController</text></g>
<g id="c-score"><rect class="bx" x="219.8" y="746.8" width="126.9" height="22.7"/><text class="t" x="283.25" y="762.2" font-size="11" textLength="73.3" lengthAdjust="spacingAndGlyphs">ScoreController</text></g>
</g>
<g id="c-dailyactivity">
<path class="pk" d="M206.2,802.6V794.3H313.5L323,802.6M206.2,802.6H360.1V926.1H206.2Z"/>
<text class="l" x="210" y="801.6" font-size="9" textLength="51.9" lengthAdjust="spacingAndGlyphs">DailyActivity</text>
<g id="c-literatureperformance"><rect class="bx" x="215.8" y="811.8" width="130.2" height="20"/><text class="t" x="280.9" y="825.3" font-size="9.5" textLength="122.1" lengthAdjust="spacingAndGlyphs">LiteraturePerformanceController</text></g>
<g id="c-party"><rect class="bx" x="215.8" y="839.6" width="130.2" height="17.4"/><text class="t" x="280.9" y="852" font-size="10" textLength="64" lengthAdjust="spacingAndGlyphs">PartyController</text></g>
<g id="c-sportactivity"><rect class="bx" x="215.8" y="867.1" width="130.2" height="19.9"/><text class="t" x="280.9" y="880.9" font-size="10.5" textLength="97.2" lengthAdjust="spacingAndGlyphs">SportActivityController</text></g>
<g id="c-travel"><rect class="bx" x="218.1" y="895.1" width="129.9" height="19.9"/><text class="t" x="283.05" y="909.1" font-size="11" textLength="70.5" lengthAdjust="spacingAndGlyphs">TravelController</text></g>
</g>
<g id="c-studentinfo">
<path class="pk" d="M377.2,591.7V583.7H480.9L491,591.7M377.2,591.7H526.9V730.5H377.2Z"/>
<text class="l" x="380.7" y="590.7" font-size="9" textLength="51.1" lengthAdjust="spacingAndGlyphs">StudentInfo</text>
<g id="c-achievement"><rect class="bx" x="387" y="597.3" width="129.9" height="17.6"/><text class="t" x="451.95" y="609.6" font-size="9.5" textLength="90.4" lengthAdjust="spacingAndGlyphs">AchievementController</text></g>
<g id="c-educationexperience"><rect class="bx" x="387" y="623.8" width="129.9" height="20.1"/><text class="t" x="451.95" y="637.3" font-size="9.5" textLength="120.4" lengthAdjust="spacingAndGlyphs">EducationExperienceController</text></g>
<g id="c-family"><rect class="bx" x="387" y="653.9" width="129.9" height="17.5"/><text class="t" x="451.95" y="666.1" font-size="9.5" textLength="64.7" lengthAdjust="spacingAndGlyphs">FamilyController</text></g>
<g id="c-punishment"><rect class="bx" x="387" y="679.4" width="129.9" height="19.9"/><text class="t" x="451.95" y="692.7" font-size="9" textLength="86.1" lengthAdjust="spacingAndGlyphs">PunishmentController</text></g>
<g id="c-socialrelation"><rect class="bx" x="387" y="706.5" width="129.9" height="20"/><text class="t" x="451.95" y="719.8" font-size="9" textLength="94.9" lengthAdjust="spacingAndGlyphs">SocialRelationController</text></g>
</g>
<g id="c-creativepractice">
<path class="pk" d="M375.2,745.1V737.4H482.6L492.2,745.1M375.2,745.1H529.2V939.4H375.2Z"/>
<text class="l" x="379" y="744.1" font-size="9" textLength="66.1" lengthAdjust="spacingAndGlyphs">CreativePractice</text>
<g id="c-competition"><rect class="bx" x="378.2" y="751.7" width="138.2" height="22.7"/><text class="t" x="447.3" y="766.9" font-size="10.5" textLength="95.4" lengthAdjust="spacingAndGlyphs">CompetitionController</text></g>
<g id="c-intership"><rect class="bx" x="378.2" y="784" width="138.2" height="22.7"/><text class="t" x="447.3" y="799.2" font-size="10.5" textLength="79.8" lengthAdjust="spacingAndGlyphs">IntershipController</text></g>
<g id="c-newproject"><rect class="bx" x="378.2" y="816.5" width="138.2" height="22.7"/><text class="t" x="447.3" y="831.7" font-size="10.5" textLength="94.7" lengthAdjust="spacingAndGlyphs">NewProjectController</text></g>
<g id="c-scientificpayoffs"><rect class="bx" x="378.2" y="849" width="138.2" height="22.8"/><text class="t" x="447.3" y="864.2" font-size="10.5" textLength="120" lengthAdjust="spacingAndGlyphs">ScientificPayoffsController</text></g>
<g id="c-social"><rect class="bx" x="378.2" y="878.2" width="138.2" height="22.9"/><text class="t" x="447.3" y="893.3" font-size="10" textLength="67.2" lengthAdjust="spacingAndGlyphs">SocialController</text></g>
<g id="c-traininglecture"><rect class="bx" x="378.2" y="912.4" width="138.2" height="22.7"/><text class="t" x="447.3" y="927.6" font-size="10.5" textLength="108" lengthAdjust="spacingAndGlyphs">TrainingLectureController</text></g>
</g>
</g>

<!-- ===== Service ===== -->
<g id="pkg-service">
<path class="pk" d="M941.9,546.7V538.4H1346.9L1381.7,546.7M941.9,546.7H1520.7V956.3H941.9Z"/>
<text class="l" x="944.9" y="545.7" font-size="10" textLength="29.5" lengthAdjust="spacingAndGlyphs">Service</text>
<g id="s-base"><rect class="bx" x="953.2" y="553.8" width="157.4" height="22.9"/><text class="t" x="1031.9" y="569.5" font-size="11.5" textLength="54.6" lengthAdjust="spacingAndGlyphs">BaseService</text></g>
<g id="s-clazz"><rect class="bx" x="953.2" y="600.2" width="157.4" height="22.7"/><text class="t" x="1031.9" y="615.8" font-size="11.5" textLength="57.4" lengthAdjust="spacingAndGlyphs">ClazzService</text></g>
<g id="s-grade"><rect class="bx" x="953.2" y="638.3" width="157.4" height="22.7"/><text class="t" x="1031.9" y="653.9" font-size="11.5" textLength="59.7" lengthAdjust="spacingAndGlyphs">GradeService</text></g>
<g id="s-studentintroduction"><rect class="bx" x="953.2" y="684.1" width="157.4" height="22.4"/><text class="t" x="1031.9" y="699.1" font-size="10.5" textLength="120.1" lengthAdjust="spacingAndGlyphs">StudentIntroductionService</text></g>
<g id="s-student"><rect class="bx" x="954.7" y="726.4" width="154.1" height="24.9"/><text class="t" x="1031.75" y="743.1" font-size="11.5" textLength="72.5" lengthAdjust="spacingAndGlyphs">StudentService</text></g>
<g id="s-syssql"><rect class="bx" x="954.7" y="769" width="154.1" height="24.9"/><text class="t" x="1031.75" y="785.7" font-size="11.5" textLength="65.5" lengthAdjust="spacingAndGlyphs">SysSqlService</text></g>
<g id="s-teachercourse"><rect class="bx" x="956" y="812.9" width="151.6" height="24.8"/><text class="t" x="1031.8" y="829.3" font-size="11" textLength="103" lengthAdjust="spacingAndGlyphs">TeacherCourseService</text></g>
<g id="s-teacherintroduce"><rect class="bx" x="956" y="858.7" width="151.6" height="27.4"/><text class="t" x="1031.8" y="876.4" font-size="11" textLength="111.8" lengthAdjust="spacingAndGlyphs">TeacherIntroduceService</text></g>
<g id="s-teacher"><rect class="bx" x="956" y="904" width="151.6" height="27.4"/><text class="t" x="1031.8" y="922.1" font-size="12" textLength="74.8" lengthAdjust="spacingAndGlyphs">TeacherService</text></g>
<g id="s-daily">
<path class="pk" d="M1159.4,562.1V553.8H1248L1255.8,562.1M1159.4,562.1H1286.5V631.5H1159.4Z"/>
<text class="l" x="1161.5" y="561.1" font-size="8" textLength="22" lengthAdjust="spacingAndGlyphs">Daily</text>
<g id="s-fee"><rect class="bx" x="1165.7" y="569.4" width="114.5" height="23.1"/><text class="t" x="1222.95" y="584.8" font-size="10.5" textLength="47.6" lengthAdjust="spacingAndGlyphs">FeeService</text></g>
<g id="s-message"><rect class="bx" x="1165.7" y="601.3" width="114.5" height="20.3"/><text class="t" x="1222.95" y="615.1" font-size="10" textLength="67.2" lengthAdjust="spacingAndGlyphs">MessageService</text></g>
</g>
<g id="s-study">
<path class="pk" d="M1158.2,653.5V645.4H1248.7L1256.8,653.5M1158.2,653.5H1288V761.6H1158.2Z"/>
<text class="l" x="1161.5" y="652.5" font-size="8" textLength="23.5" lengthAdjust="spacingAndGlyphs">Study</text>
<g id="s-attendence"><rect class="bx" x="1167" y="658.2" width="112" height="20.3"/><text class="t" x="1223" y="672.2" font-size="10.5" textLength="79" lengthAdjust="spacingAndGlyphs">AttendenceService</text></g>
<g id="s-course"><rect class="bx" x="1167" y="685.4" width="112" height="19.9"/><text class="t" x="1223" y="699" font-size="10" textLength="59.4" lengthAdjust="spacingAndGlyphs">CourseService</text></g>
<g id="s-homework"><rect class="bx" x="1167" y="710.6" width="112" height="19.7"/><text class="t" x="1223" y="724.3" font-size="10.5" textLength="79.1" lengthAdjust="spacingAndGlyphs">HomeworkService</text></g>
<g id="s-score"><rect class="bx" x="1167" y="736.7" width="112" height="19.9"/><text class="t" x="1223" y="750.5" font-size="10.5" textLength="55.4" lengthAdjust="spacingAndGlyphs">ScoreService</text></g>
</g>
<g id="s-dailyactivity">
<path class="pk" d="M1157.4,792.1V784.2H1248.7L1256.8,792.1M1157.4,792.1H1288.8V928.3H1157.4Z"/>
<text class="l" x="1160.9" y="791.1" font-size="7.5" textLength="45.8" lengthAdjust="spacingAndGlyphs">DailyActivity</text>
<g id="s-literatureperformance"><rect class="bx" x="1162.2" y="797.7" width="121.3" height="22.5"/><text class="t" x="1222.85" y="812.3" font-size="9" textLength="111" lengthAdjust="spacingAndGlyphs">LiteraturePerformanceService</text></g>
<g id="s-party"><rect class="bx" x="1162.2" y="826.2" width="121.3" height="22.4"/><text class="t" x="1222.85" y="841.1" font-size="10" textLength="51.4" lengthAdjust="spacingAndGlyphs">PartyService</text></g>
<g id="s-sportactivity"><rect class="bx" x="1163" y="855.5" width="119.7" height="22.5"/><text class="t" x="1222.85" y="870.4" font-size="10" textLength="81.1" lengthAdjust="spacingAndGlyphs">SportActivityService</text></g>
<g id="s-travel"><rect class="bx" x="1163" y="886.1" width="119.7" height="27.2"/><text class="t" x="1222.85" y="903.7" font-size="11" textLength="59.4" lengthAdjust="spacingAndGlyphs">TravelService</text></g>
</g>
<g id="s-studentinfo">
<path class="pk" d="M1325.8,562.3V554.2H1462L1474,562.3M1325.8,562.3H1521V711.7H1325.8Z"/>
<text class="l" x="1328.8" y="561.3" font-size="7.5" textLength="45.3" lengthAdjust="spacingAndGlyphs">StudentInfo</text>
<g id="s-achievement"><rect class="bx" x="1332.6" y="569.4" width="181.3" height="23.1"/><text class="t" x="1423.25" y="584.8" font-size="10.5" textLength="87.6" lengthAdjust="spacingAndGlyphs">AchievementService</text></g>
<g id="s-educationexperience"><rect class="bx" x="1332.6" y="600.2" width="181.3" height="22.7"/><text class="t" x="1423.25" y="615.2" font-size="10" textLength="113.6" lengthAdjust="spacingAndGlyphs">EducationExperienceService</text></g>
<g id="s-family"><rect class="bx" x="1332.6" y="628.5" width="181.3" height="22.7"/><text class="t" x="1423.25" y="643.7" font-size="10.5" textLength="59.2" lengthAdjust="spacingAndGlyphs">FamilyService</text></g>
<g id="s-punishment"><rect class="bx" x="1332.6" y="657.2" width="181.3" height="22.6"/><text class="t" x="1423.25" y="672.2" font-size="10" textLength="79.8" lengthAdjust="spacingAndGlyphs">PunishmentService</text></g>
<g id="s-socialrelation"><rect class="bx" x="1332.6" y="684.1" width="181.3" height="22.7"/><text class="t" x="1423.25" y="699.1" font-size="10" textLength="89.4" lengthAdjust="spacingAndGlyphs">SocialRelationService</text></g>
</g>
<g id="s-creativepractice">
<path class="pk" d="M1327.6,741.6V733.7H1458.5L1470.3,741.6M1327.6,741.6H1515.7V936.4H1327.6Z"/>
<text class="l" x="1330.5" y="740.6" font-size="8" textLength="61.2" lengthAdjust="spacingAndGlyphs">CreativePractice</text>
<g id="s-competition"><rect class="bx" x="1338.1" y="751.7" width="170.5" height="22.7"/><text class="t" x="1423.35" y="766.7" font-size="10" textLength="79.8" lengthAdjust="spacingAndGlyphs">CompetitionService</text></g>
<g id="s-intership"><rect class="bx" x="1338.1" y="779.5" width="170.5" height="22.7"/><text class="t" x="1423.35" y="794.9" font-size="11" textLength="72" lengthAdjust="spacingAndGlyphs">IntershipService</text></g>
<g id="s-newproject"><rect class="bx" x="1338.1" y="806.1" width="170.5" height="22.7"/><text class="t" x="1423.35" y="820.9" font-size="9.5" textLength="72.5" lengthAdjust="spacingAndGlyphs">NewProjectService</text></g>
<g id="s-scientificpayoffs"><rect class="bx" x="1339.1" y="836.9" width="168" height="22.7"/><text class="t" x="1423.1" y="852.1" font-size="10.5" textLength="98.7" lengthAdjust="spacingAndGlyphs">ScientificPayoffsService</text></g>
<g id="s-social"><rect class="bx" x="1339.1" y="865.8" width="168" height="22.7"/><text class="t" x="1423.1" y="880.6" font-size="9.5" textLength="50.6" lengthAdjust="spacingAndGlyphs">SocialService</text></g>
<g id="s-traininglecture"><rect class="bx" x="1339.1" y="900.4" width="168" height="27.6"/><text class="t" x="1423.1" y="917.7" font-size="9.5" textLength="88.4" lengthAdjust="spacingAndGlyphs">TrainingLectureService</text></g>
</g>
</g>

<!-- ===== Connectors ===== -->
<g id="connectors">
<path class="c dr" d="M1289.3,76.8V8.1H516.6V497.7H526.7" marker-end="url(#a-dr)"/>
<path class="c dr" d="M206.2,606.2H196.4V27H1122.7V76.8" marker-end="url(#a-dr)"/>
<path class="c br" d="M969.6,76.8V40.7H137.7V103.8" marker-end="url(#a-br)"/>
<path class="c cy" d="M1286.5,592.8H1524.3V45.4H1123.6V76.8" marker-end="url(#a-cy)"/>
<path class="c gr" d="M1123.6,67.4H721.3V535.2H731.2" marker-end="url(#a-gr)"/>
<path class="c gr" d="M194.6,709.6V88.2H896.3" marker-end="url(#a-gr)"/>
<path class="c dr" d="M969.6,108.7V98.9H50.4V138.4H97.4" marker-end="url(#a-dr)"/>
<path class="c br" d="M280.3,633.6V648H518.7V120.3H896.3" marker-end="url(#a-br)"/>
<path class="c ol" d="M896.3,152.8H537V166.3H177.8" marker-end="url(#a-ol)"/>
<path class="c sa" d="M68,747.6H58.4V182.3H896.3" marker-end="url(#a-sa)"/>
<path class="c sa" d="M537,182.3V196.4H177.8" marker-end="url(#a-sa)"/>
<path class="c br" d="M896.3,219H537V222.6H177.8" marker-end="url(#a-br)"/>
<path class="c bk" d="M346.7,668V221.5H896.3" marker-end="url(#a-bk)"/>
<path class="c br" d="M377.2,657H342.4V222.6"/>
<path class="c dr" d="M377.2,655H340.4V147.7H896.3" marker-end="url(#a-dr)"/>
<path class="c br" d="M953.2,695.2H824V149.8H896.3" marker-end="url(#a-br)"/>
<path class="c gr" d="M954.7,738.9H827.3V151.5H896.3" marker-end="url(#a-gr)"/>
<path class="c lg" d="M953.2,649H821.3V201.2H1048.6" marker-end="url(#a-lg)"/>
<path class="c br" d="M953.2,611.6H725.6V205.6H1048.6" marker-end="url(#a-br)"/>
<path class="c or" d="M771.7,205.6V390.3" marker-end="url(#a-or)"/>
<path class="c dr" d="M346.7,713.2H722.1V237.3H1048.6" marker-end="url(#a-dr)"/>
<path class="c te" d="M956,825.1H722.9V242.2H1048.6" marker-end="url(#a-te)"/>
<path class="c dr" d="M893.8,307.5H506.8V427.1H158.1V417.3" marker-end="url(#a-dr)"/>
<path class="c dr" d="M956,917.8H606.8V184.5H896.3" marker-end="url(#a-dr)"/>
<path class="c bl" d="M956,872.6H613.6V181H896.3" marker-end="url(#a-bl)"/>
<path class="c sa" d="M613,183V259.6H337.4" marker-end="url(#a-sa)"/>
<path class="c rd th" d="M618.9,439.3H190.1V748H169.2" marker-end="url(#a-rd)"/>
<path class="c dr" d="M731.4,445.3H34.5V589.7H68" marker-end="url(#a-dr)"/>
<path class="c dr" d="M42.3,445.3V668.5H68" marker-end="url(#a-dr)"/>
<path class="c ol" d="M557,432.9V464.3H49.9V627.2H68" marker-end="url(#a-ol)"/>
<path class="c gr" d="M533,491.3H178.8V750.2H169.2" marker-end="url(#a-gr)"/>
<path class="c dr th" d="M533,510H201.4V747.6H169.2" marker-end="url(#a-dr)"/>
<path class="c te" d="M731.4,454.3H333.1V643.7" marker-end="url(#a-te)"/>
<path class="c mg" d="M776.8,559.4V569.1H22.2V709.6H68" marker-end="url(#a-mg)"/>
<path class="c mg" d="M266.2,569.1V578.8" marker-end="url(#a-mg)"/>
<path class="c te" d="M54.1,709.6V573.7H725.6"/>
<path class="c bk" d="M877.2,574.7H8.1V709.6H68" marker-end="url(#a-bk)"/>
<path class="c br" d="M618.9,421.7H606.8V657.2H527.5" marker-end="url(#a-br)"/>
<path class="c br" d="M564.5,522.8V657.2"/>
<path class="c bl" d="M1128,592.9H668.5V564.5" marker-end="url(#a-bl)"/>
<path class="c bl" d="M668.5,592.9V966H283.3V926.1" marker-end="url(#a-bl)"/>
<path class="c dr" d="M283.3,926.1V991.8H1128V377.2" marker-end="url(#a-dr)"/>
<path class="c sa" d="M1157.4,856.2H1128"/>
<path class="c sa" d="M877.2,538.4V957.1H118.6V760.4" marker-end="url(#a-sa)"/>
<path class="c gr" d="M877.2,540V838.8H529.2" marker-end="url(#a-gr)"/>
<path class="c br" d="M452.2,935.1V949.2H1559.7V290H1524.3"/>
<path class="c gr" d="M1515.7,834.7H1524.3V290H1372.9" marker-end="url(#a-gr)"/>
<path class="c bl" d="M1289.3,376.6V474.4H924.3" marker-end="url(#a-bl)"/>
<path class="c bl" d="M954.7,781.2H945.4V386.9H969.6V377.2" marker-end="url(#a-bl)"/>
<path class="c br" d="M1031.8,553.8V465.4H969.6V386.9"/>
<path class="c bk" d="M1423.2,554.2V137.4H1371.4" marker-end="url(#a-bk)"/>
<path class="c gr" d="M1423.2,137.4H1432.6V381.9H343"/>
<path class="c bl" d="M1288,703.8H1553.8V202H1198.4" marker-end="url(#a-bl)"/>
<path class="c sa" d="M520.9,147.7V709.6H169.2" marker-end="url(#a-bl)"/>
</g>
</g>
</svg>
